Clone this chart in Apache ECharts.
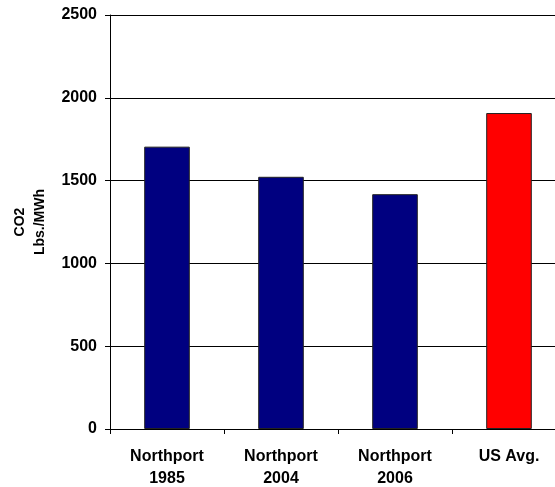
<!DOCTYPE html>
<html>
<head>
<meta charset="utf-8">
<script src="https://cdn.jsdelivr.net/npm/echarts@6/dist/echarts.min.js"></script>
<style>
  html, body { margin: 0; padding: 0; background: #fff; }
  #chart { width: 555px; height: 487px; }
</style>
</head>
<body>
<div id="chart"></div>
<script>
// data
const categories = ['Northport\n1985', 'Northport\n2004', 'Northport\n2006', 'US Avg.'];
const co2Values = [1705, 1523, 1418, 1908];
const barColors = ['#000080', '#000080', '#000080', '#FF0000'];
const yTicks = [0, 500, 1000, 1500, 2000, 2500];

const font = '"Liberation Sans", Arial, sans-serif';

const chart = echarts.init(document.getElementById('chart'));
chart.setOption({
    animation: false,
    // plot runs a little past the right edge, like the original
    grid: { left: 110, right: -11, top: 15, bottom: 58, containLabel: false, outerBoundsMode: 'none' },
    xAxis: {
        type: 'category',
        data: categories,
        axisLine: { show: true, lineStyle: { color: '#000', width: 1 } },
        axisTick: { show: true, length: 5, lineStyle: { color: '#000' } },
        axisLabel: {
            color: '#000', fontFamily: font, fontWeight: 'bold', fontSize: 16,
            lineHeight: 22, margin: 17, interval: 0
        }
    },
    yAxis: {
        type: 'value',
        min: yTicks[0],
        max: yTicks[yTicks.length - 1],
        interval: 500,
        name: 'CO2\nLbs./MWh',
        nameLocation: 'middle',
        nameRotate: 90,
        nameGap: 60,
        nameTextStyle: { color: '#000', fontFamily: font, fontWeight: 'bold', fontSize: 14, lineHeight: 20 },
        axisLine: { show: true, lineStyle: { color: '#000', width: 1 } },
        axisTick: { show: true, inside: false, length: 5, lineStyle: { color: '#000' } },
        splitLine: { show: true, lineStyle: { color: '#000', width: 1 } },
        axisLabel: {
            color: '#000', fontFamily: font, fontWeight: 'bold', fontSize: 16, margin: 13,
            formatter: v => String(v) // no thousands separator
        }
    },
    series: [{
        type: 'bar',
        barWidth: '40%',
        data: co2Values.map((v, i) => ({
            value: v,
            itemStyle: { color: barColors[i], borderColor: '#222', borderWidth: 1 }
        }))
    }]
});
</script>
</body>
</html>
